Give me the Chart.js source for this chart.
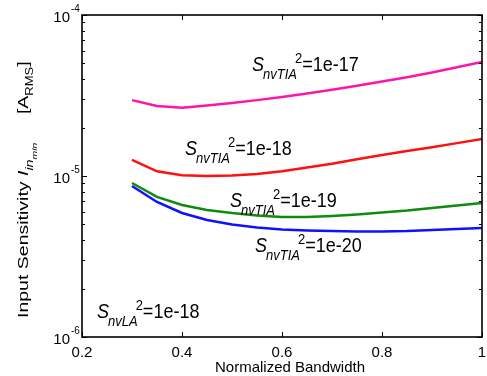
<!DOCTYPE html>
<html>
<head>
<meta charset="utf-8">
<script src="https://cdn.jsdelivr.net/npm/chart.js@4.4.1/dist/chart.umd.min.js"></script>
<style>
  html, body { margin: 0; padding: 0; background: #fff; }
  #wrap { width: 487px; height: 376px; }
</style>
</head>
<body>
<div id="wrap"><canvas id="sensChart" width="487" height="376"></canvas></div>
<script>
// normalized bandwidth (x)
var bandwidth = [0.3, 0.35, 0.4, 0.45, 0.5, 0.55, 0.6, 0.65, 0.7, 0.75, 0.8, 0.85, 0.9, 0.95, 1.0];

// input sensitivity I_in_min [A_RMS] for each S_nvTIA^2
var tia17 = [2.96e-5, 2.72e-5, 2.65e-5, 2.74e-5, 2.84e-5, 2.96e-5, 3.10e-5, 3.25e-5, 3.43e-5, 3.63e-5, 3.86e-5, 4.11e-5, 4.40e-5, 4.73e-5, 5.11e-5];
var tia18 = [1.26e-5, 1.07e-5, 1.01e-5, 1.00e-5, 1.007e-5, 1.03e-5, 1.07e-5, 1.13e-5, 1.19e-5, 1.27e-5, 1.35e-5, 1.43e-5, 1.51e-5, 1.60e-5, 1.70e-5];
var tia19 = [9.05e-6, 7.41e-6, 6.61e-6, 6.15e-6, 5.89e-6, 5.69e-6, 5.56e-6, 5.56e-6, 5.65e-6, 5.77e-6, 5.93e-6, 6.10e-6, 6.33e-6, 6.56e-6, 6.80e-6];
var tia20 = [8.67e-6, 6.90e-6, 5.89e-6, 5.33e-6, 5.00e-6, 4.79e-6, 4.66e-6, 4.59e-6, 4.55e-6, 4.52e-6, 4.52e-6, 4.55e-6, 4.62e-6, 4.69e-6, 4.75e-6];

// ticks
var xTicks = [0.2, 0.4, 0.6, 0.8, 1];
var xTickLabels = ['0.2', '0.4', '0.6', '0.8', '1'];
var yDecades = [-6, -5, -4];

// text labels in the plot (data coords of the "S")
var noteSubs = ['nvTIA', 'nvTIA', 'nvTIA', 'nvTIA', 'nvLA'];
var noteValues = ['1e-17', '1e-18', '1e-19', '1e-20', '1e-18'];
var noteX = [0.54, 0.406, 0.496, 0.546, 0.23];
var noteY = [4.49e-5, 1.35e-5, 6.42e-6, 3.37e-6, 1.31e-6];

var FONT = '"Liberation Sans", Arial, sans-serif';

function toPoints(ys) {
    return bandwidth.map(function (x, i) { return { x: x, y: ys[i] }; });
}

function drawRuns(ctx, runs, x, y) {
    runs.forEach(function (r) {
        ctx.font = r[1];
        ctx.fillText(r[0], x, y + r[2]);
        x += ctx.measureText(r[0]).width + (r[3] || 0);
    });
}

var decorations = {
    id: 'decorations',
    afterDraw: function (chart) {
        var ctx = chart.ctx;
        var a = chart.chartArea;
        var xs = chart.scales.x, ys = chart.scales.y;
        ctx.save();
        ctx.strokeStyle = '#000';
        ctx.fillStyle = '#000';
        ctx.lineWidth = 1.6;
        ctx.strokeRect(a.left, a.top, a.right - a.left, a.bottom - a.top);

        ctx.beginPath();
        xTicks.forEach(function (v) {
            var px = Math.round(xs.getPixelForValue(v)) + 0.5;
            ctx.moveTo(px, a.bottom); ctx.lineTo(px, a.bottom - 5);
            ctx.moveTo(px, a.top); ctx.lineTo(px, a.top + 5);
        });
        yDecades.forEach(function (e, i) {
            for (var k = 1; k <= 9; k++) {
                if (k > 1 && i === yDecades.length - 1) break;
                var py = Math.round(ys.getPixelForValue(k * Math.pow(10, e))) + 0.5;
                var len = k === 1 ? 5 : 3;
                ctx.moveTo(a.left, py); ctx.lineTo(a.left + len, py);
                ctx.moveTo(a.right, py); ctx.lineTo(a.right - len, py);
            }
        });
        ctx.lineWidth = 1;
        ctx.stroke();

        // x tick labels
        ctx.font = '15px ' + FONT;
        ctx.textAlign = 'center';
        ctx.textBaseline = 'alphabetic';
        xTicks.forEach(function (v, i) {
            ctx.fillText(xTickLabels[i], xs.getPixelForValue(v), a.bottom + 20);
        });

        // y tick labels 10^e
        yDecades.forEach(function (e) {
            var py = ys.getPixelForValue(Math.pow(10, e));
            ctx.textAlign = 'right';
            ctx.font = '15px ' + FONT;
            ctx.fillText('10', a.left - 12, py + 7);
            ctx.textAlign = 'left';
            ctx.font = '10px ' + FONT;
            ctx.fillText(String(e), a.left - 11, py - 3);
        });

        // x title
        ctx.textAlign = 'center';
        ctx.font = '15px ' + FONT;
        ctx.fillText('Normalized Bandwidth', 290, 372);

        // y title, rotated and stretched along the text
        ctx.save();
        ctx.translate(28, 318);
        ctx.rotate(-Math.PI / 2);
        ctx.scale(1.3, 1);
        ctx.textAlign = 'left';
        drawRuns(ctx, [
            ['Input Sensitivity ', '15px ' + FONT, 0],
            ['I', 'italic 15px ' + FONT, 0],
            ['in', 'italic 11px ' + FONT, 5],
            ['min', 'italic 8px ' + FONT, 9, 22],
            ['[A', '15px ' + FONT, 0],
            ['RMS', '10px ' + FONT, 5],
            [']', '15px ' + FONT, 0]
        ], 0, 0);
        ctx.restore();

        // S^2 notes, slightly taller like the source figure
        ctx.textAlign = 'left';
        noteSubs.forEach(function (sub, i) {
            var x = xs.getPixelForValue(noteX[i]);
            var y = ys.getPixelForValue(noteY[i]);
            ctx.save();
            ctx.translate(x, y);
            ctx.scale(1, 1.12);
            drawRuns(ctx, [
                ['S', 'italic 18px ' + FONT, 0, -1],
                [sub, 'italic 13px ' + FONT, 7, -2],
                ['2', '13px ' + FONT, -7],
                ['=' + noteValues[i], '18px ' + FONT, 0]
            ], 0, 0);
            ctx.restore();
        });
        ctx.restore();
    }
};

var ctx = document.getElementById('sensChart').getContext('2d');

new Chart(ctx, {
    type: 'line',
    data: {
        datasets: [{
            label: 'S_nvTIA^2=1e-17',
            data: toPoints(tia17),
            borderColor: '#ff14aa'
        }, {
            label: 'S_nvTIA^2=1e-18',
            data: toPoints(tia18),
            borderColor: '#ff1010'
        }, {
            label: 'S_nvTIA^2=1e-19',
            data: toPoints(tia19),
            borderColor: '#108a10'
        }, {
            label: 'S_nvTIA^2=1e-20',
            data: toPoints(tia20),
            borderColor: '#1010ff'
        }]
    },
    options: {
        responsive: false,
        animation: false,
        datasets: {
            line: { borderWidth: 2.5, pointRadius: 0, tension: 0, fill: false }
        },
        layout: { padding: { left: 82, top: 15, right: 5, bottom: 39 } },
        scales: {
            x: { type: 'linear', min: 0.2, max: 1, display: false },
            y: { type: 'logarithmic', min: 1e-6, max: 1e-4, display: false }
        },
        plugins: {
            legend: { display: false },
            tooltip: { enabled: false }
        }
    },
    plugins: [decorations]
});
</script>
</body>
</html>
